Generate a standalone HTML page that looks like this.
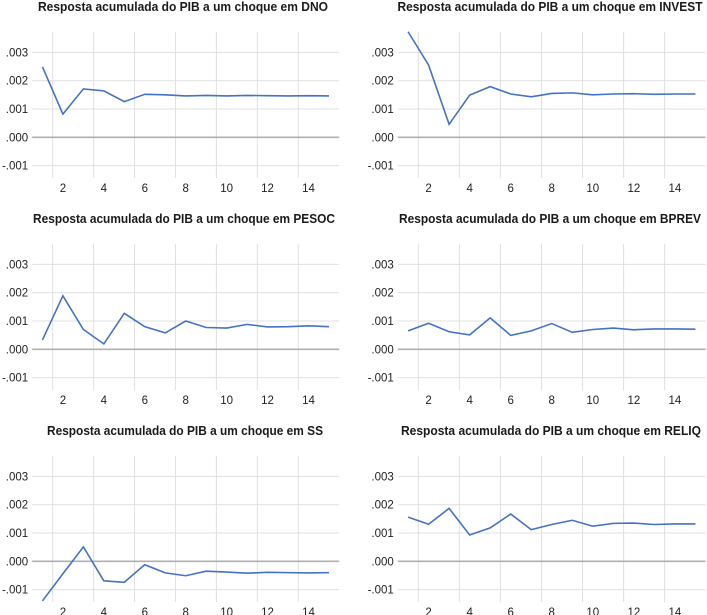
<!DOCTYPE html>
<html><head><meta charset="utf-8"><style>
html,body{margin:0;padding:0;background:#fff;}
svg{display:block;font-family:"Liberation Sans",sans-serif;}
</style></head><body>
<svg id="c" width="707" height="615"></svg>
<script>
const periods=[1,2,3,4,5,6,7,8,9,10,11,12,13,14,15];
const xTickLabels=[2,4,6,8,10,12,14];
const yTicks=[3,2,1,0,-1];
const yTickLabels=[".003",".002",".001",".000","-.001"];
const titles=["DNO","INVEST","PESOC","BPREV","SS","RELIQ"];
const dno=[2.49,0.82,1.71,1.64,1.26,1.52,1.50,1.46,1.48,1.46,1.48,1.47,1.46,1.47,1.46];
const invest=[3.73,2.55,0.46,1.49,1.79,1.53,1.43,1.55,1.57,1.50,1.53,1.54,1.52,1.53,1.53];
const pesoc=[0.33,1.89,0.70,0.19,1.27,0.80,0.58,1.00,0.77,0.75,0.88,0.79,0.80,0.83,0.80];
const bprev=[0.65,0.92,0.62,0.51,1.11,0.49,0.65,0.91,0.60,0.70,0.75,0.69,0.72,0.72,0.71];
const ss=[-1.40,-0.44,0.51,-0.69,-0.74,-0.12,-0.41,-0.51,-0.35,-0.38,-0.42,-0.39,-0.40,-0.41,-0.40];
const reliq=[1.56,1.31,1.87,0.93,1.18,1.67,1.12,1.30,1.45,1.24,1.34,1.35,1.30,1.32,1.32];
const series=[dno,invest,pesoc,bprev,ss,reliq];
const titleCenters=[183,550,184,550,185,551];
const titleWidths=[290,305,302,302,276,300];
const NS="http://www.w3.org/2000/svg";
const svg=document.getElementById('c');
function mk(tag,attrs,parent){const e=document.createElementNS(NS,tag);for(const k in attrs)e.setAttribute(k,attrs[k]);parent.appendChild(e);return e;}
series.forEach((data,idx)=>{
  const col=idx%2,row=Math.floor(idx/2);
  const left=col===0?32.2:397.8, right=col===0?339.2:705.7;
  const oy=row*212;
  const top=31.7+oy, bottom=178+oy, zeroY=137.3+oy, unit=28.3;
  const xS=v=>left+(v-0.5)*(right-left)/15;
  const yS=v=>zeroY-v*unit;
  const g=mk('g',{},svg);
  
  
  const t=mk('text',{x:titleCenters[idx],y:11+oy,'text-anchor':'middle','font-size':'13','font-weight':'bold',fill:'#1a1a1a',textLength:titleWidths[idx],lengthAdjust:'spacingAndGlyphs'},g);
  t.textContent='Resposta acumulada do PIB a um choque em '+titles[idx];
  
  
  for(let k=1.5;k<15;k+=2){
    const l=mk('line',{x1:xS(k),x2:xS(k),y1:top,y2:bottom,stroke:'#e0e0e0','stroke-width':1},g);
    
    
  }
  yTicks.forEach((v,i)=>{
    const l=mk('line',{x1:left,x2:right,y1:yS(v),y2:yS(v),stroke:v===0?'#b0b0b0':'#e0e0e0','stroke-width':v===0?1.6:1},g);
    
    
    const tx=mk('text',{x:left-4,y:yS(v)+4,'text-anchor':'end','font-size':'11.5',fill:'#222'},g);
    tx.textContent=yTickLabels[i];
    
    
  });
  xTickLabels.forEach(v=>{
    const tx=mk('text',{x:xS(v),y:bottom+14,'text-anchor':'middle','font-size':'11.5',fill:'#222'},g);
    tx.textContent=v;
    
    
  });
  const cid='clip'+idx;
  const cp=mk('clipPath',{id:cid},g);
  mk('rect',{x:left,y:top-1,width:right-left,height:bottom-top+1},cp);
  const p=mk('polyline',{points:data.map((v,i)=>xS(periods[i])+','+yS(v)).join(' '),fill:'none',stroke:'#4472c4','stroke-width':1.6,'clip-path':'url(#'+cid+')'},g);
  
  
});
</script>
</body></html>
